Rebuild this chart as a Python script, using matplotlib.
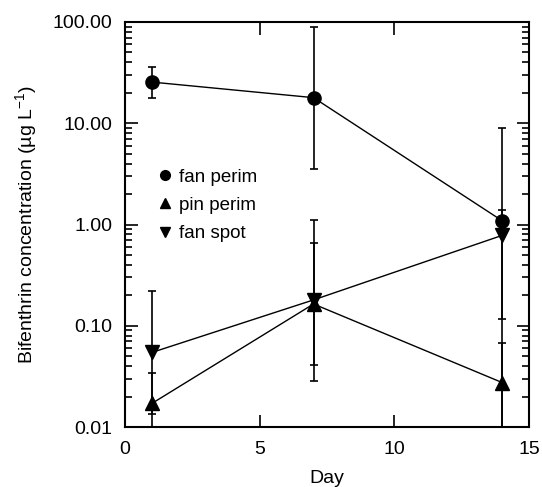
import matplotlib
matplotlib.use('Agg')
import matplotlib.pyplot as plt
import numpy as np
from matplotlib.ticker import FixedLocator, LogLocator, NullFormatter

plt.rcParams['font.family'] = ['Liberation Sans', 'DejaVu Sans']
plt.rcParams['mathtext.default'] = 'regular'

days = [1, 7, 14]

# fan perim
fan_perim = [25.5, 17.9, 1.09]
fan_perim_hi = [35.8, 89.0, 8.9]
fan_perim_lo = [17.7, 3.5, 0.117]

# pin perim
pin_perim = [0.0171, 0.164, 0.0275]
pin_perim_hi = [0.0343, 0.66, 0.068]
pin_perim_lo = [0.0135, 0.0414, 0.001]

# fan spot
fan_spot = [0.0545, 0.18, 0.78]
fan_spot_hi = [0.22, 1.12, 1.38]
fan_spot_lo = [0.001, 0.0283, 0.001]

y_ticks = [0.01, 0.1, 1, 10, 100]
y_tick_labels = ['0.01', '0.10', '1.00', '10.00', '100.00']


def err(v, lo, hi):
    v = np.array(v)
    return [v - np.array(lo), np.array(hi) - v]


fig = plt.figure(figsize=(5.42, 4.87), dpi=100)
ax = fig.add_axes([125/542, 60/487, 404/542, 405/487])

series = [
    (fan_perim, fan_perim_lo, fan_perim_hi, 'o', 'fan perim', 9.5),
    (pin_perim, pin_perim_lo, pin_perim_hi, '^', 'pin perim', 10),
    (fan_spot, fan_spot_lo, fan_spot_hi, 'v', 'fan spot', 10),
]
for vals, lo, hi, m, lab, ms in series:
    ax.errorbar(days, vals, yerr=err(vals, lo, hi), fmt='-', marker=m, color='black',
                markersize=ms, linewidth=1, elinewidth=1.2, capsize=3, capthick=1.2,
                label=lab)

ax.set_yscale('log')
ax.set_xlim(0, 15)
ax.set_ylim(0.01, 100)
ax.set_xticks([0, 5, 10, 15])
ax.yaxis.set_major_locator(FixedLocator(y_ticks))
ax.set_yticklabels(y_tick_labels)
ax.yaxis.set_minor_locator(LogLocator(base=10, subs=np.arange(2, 10)))
ax.yaxis.set_minor_formatter(NullFormatter())

ax.tick_params(which='both', direction='in', top=True, right=True, labelsize=14, width=1.2)
ax.tick_params(which='major', length=9)
ax.tick_params(axis='y', which='major', pad=9)
ax.tick_params(axis='x', which='major', pad=10)
ax.tick_params(which='minor', length=5)
for s in ax.spines.values():
    s.set_linewidth(1.5)

ax.set_xlabel('Day', fontsize=14, labelpad=9)
ax.set_ylabel('Bifenthrin concentration (µg L$^{-1}$)', fontsize=14, labelpad=10)

handles, labels = ax.get_legend_handles_labels()
handles = [plt.Line2D([], [], marker=h[0].get_marker(), color='black', linestyle='none',
                      markersize=7) for h in handles]
ax.legend(handles, labels, loc='upper left', bbox_to_anchor=(0.035, 0.68), frameon=False,
          fontsize=13.5, handletextpad=0.2, handlelength=1.0, labelspacing=0.6)

fig.savefig('out.png', dpi=100)
